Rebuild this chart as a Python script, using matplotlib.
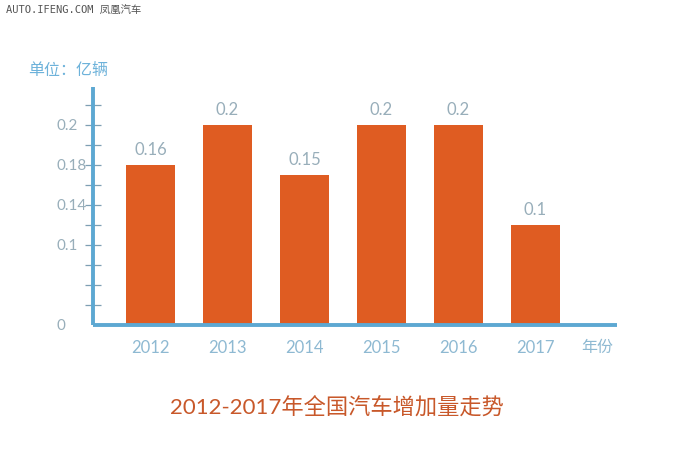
import matplotlib
matplotlib.use("Agg")
import matplotlib.pyplot as plt
from matplotlib.ticker import FixedLocator

# ---- data ----
years = ["2012", "2013", "2014", "2015", "2016", "2017"]
values = [0.16, 0.20, 0.15, 0.20, 0.20, 0.10]
value_labels = ["0.16", "0.2", "0.15", "0.2", "0.2", "0.1"]
ytick_pos = [0, 0.08, 0.12, 0.16, 0.20]
ytick_labels = ["0", "0.1", "0.14", "0.18", "0.2"]
ytick_marks = [0.02, 0.04, 0.06, 0.08, 0.10, 0.12, 0.14, 0.16, 0.18, 0.20, 0.22]
title = "2012-2017年全国汽车增加量走势"
unit_label = "单位：亿辆"
x_unit = "年份"
watermark = "AUTO.IFENG.COM 凤凰汽车"

plt.rcParams['font.family'] = ['Lato', 'Noto Sans CJK SC', 'DejaVu Sans']

W, H = 674, 453
fig = plt.figure(figsize=(W / 100, H / 100), dpi=100)
fig.patch.set_facecolor("white")

ax_left, ax_right, ax_bottom, ax_top = 93, 617, 325, 87
ax = fig.add_axes([ax_left / W, (H - ax_bottom) / H,
                   (ax_right - ax_left) / W, (ax_bottom - ax_top) / H])

bar_color = "#DF5C22"
axis_color = "#5DA8D2"
label_gray = "#98AEBA"
year_color = "#8EB9D2"

x = list(range(len(years)))
bars = ax.bar(x, values, width=0.64, color=bar_color, zorder=2)
ax.bar_label(bars, labels=value_labels, padding=5, fontsize=12,
             color=label_gray)

px = 77.0
ax.set_xlim((ax_left - 150.5) / px, (ax_right - 150.5) / px)
ax.set_ylim(0, (ax_bottom - ax_top) / 1000.0)

for s in ["top", "right"]:
    ax.spines[s].set_visible(False)
for s in ["left", "bottom"]:
    ax.spines[s].set_color(axis_color)
    ax.spines[s].set_linewidth(2.8)
    ax.spines[s].set_capstyle("butt")

ax.set_xticks(x)
ax.set_xticklabels(years)
ax.tick_params(axis="x", length=0, pad=10.5, labelsize=12, labelcolor=year_color)

ax.yaxis.remove_overlapping_locs = False
ax.set_yticks(ytick_pos)
ax.set_yticklabels(ytick_labels, ha="left")
ax.tick_params(axis="y", which="major", length=0, pad=26.5, labelsize=11,
               labelcolor=label_gray)
ax.yaxis.set_minor_locator(FixedLocator(ytick_marks))
ax.tick_params(axis="y", which="minor", direction="inout", length=11,
               width=0.9, color="#7E9FB3")

ax.text((597 - 150.5) / px, -0.0225, x_unit, ha="center", va="center",
        fontsize=11.5, color=year_color)

fig.text(68 / W, 1 - 70 / H, unit_label, ha="center", va="center",
         fontsize=11.5, color="#6DB2DA")
fig.text(337 / W, 1 - 408 / H, title, ha="center", va="center",
         fontsize=16, color="#C8582A")
fig.text(6 / W, 1 - 11 / H, watermark, ha="left", va="center",
         fontsize=7.5, color="#555555",
         family=["DejaVu Sans Mono", "Noto Sans CJK SC"])

fig.savefig("out.png", dpi=100, facecolor="white")
